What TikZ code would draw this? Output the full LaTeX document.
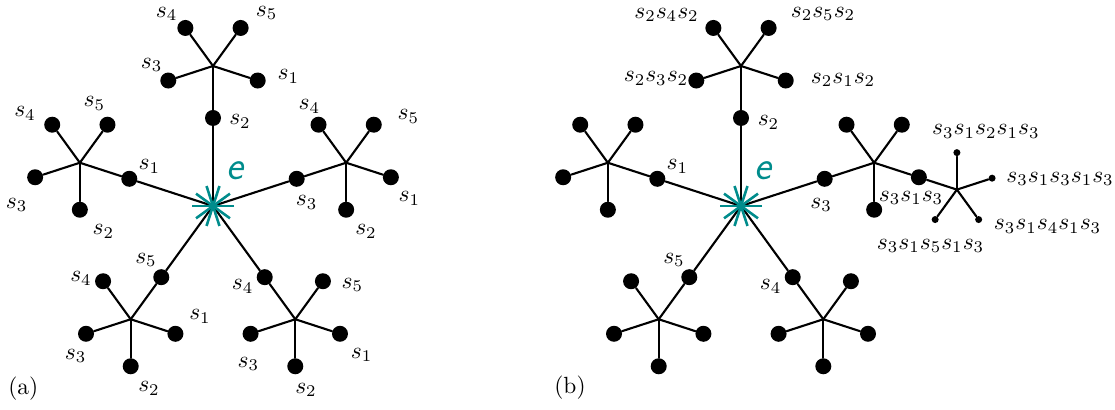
\documentclass[tikz,border=0pt]{standalone}
\usepackage{tikz}
\usetikzlibrary{calc}
\definecolor{StarTeal}{HTML}{008C8C}
\tikzset{
  edge/.style={draw=black, line width=0.9pt, line cap=round},
  vertex/.style={circle, fill=black, inner sep=0pt, minimum size=0.24cm},
  smallvertex/.style={circle, fill=black, inner sep=0pt, minimum size=0.105cm},
  ray/.style={draw=StarTeal, line width=1.1pt},
  lbl/.style={inner sep=0pt},
  elbl/.style={inner sep=0pt, text=StarTeal, font=\LARGE\sffamily\itshape},
}

\begin{document}
\begin{tikzpicture}[x=0.015cm, y=0.015cm]
  \useasboundingbox (-213,-204) rectangle (902,206);
  % Two copies of the tree around e
  \foreach \pan/\ox in {a/0, b/528} {
    \coordinate (e\pan) at (\ox,0);
    \foreach \i in {1,...,5} {
      \pgfmathsetmacro\th{234-72*\i}
      \coordinate (j\pan\i) at ($(e\pan)+(\th:140)$);
      \node[vertex] (d\pan\i) at ($(e\pan)+(\th:88)$) {};
      \draw[edge] (e\pan) -- (d\pan\i) -- (j\pan\i);
      % leaves of the junction
      \foreach \k in {1,...,5} {
        \ifnum\k=\i\else
          \pgfmathsetmacro\ph{414-72*\k}
          \node[vertex] (l\pan\i\k) at ($(j\pan\i)+(\ph:47)$) {};
          \draw[edge] (j\pan\i) -- (l\pan\i\k);
        \fi
      }
    }
  }
  % Third level, panel (b): behind s3 s1
  \coordinate (kb) at ($(jb3)+(342:87)$);
  \draw[edge] (lb31) -- (kb);
  \foreach \m in {2,...,5} {
    \pgfmathsetmacro\ps{234-72*\m}
    \node[smallvertex] (kb\m) at ($(kb)+(\ps:37)$) {};
    \draw[edge] (kb) -- (kb\m);
  }
  % Teal stars at e
  \foreach \pan in {a,b} {
    \foreach \a in {0,36,...,144}
      \draw[ray] ($(e\pan)+(\a:21)$) -- ($(e\pan)+(\a+180:21)$);
    \node[elbl] (t\pan e) at ($(e\pan)+(22,35)$) {e};
  }
  % Labels, panel (a)
  \foreach \x/\y/\txt [count=\n] in {
      -46.3/192/s_4, 53.7/193/s_5, -61.3/141/s_3, 75.3/129.3/s_1,
      27/84.3/s_2,
      -188/92.7/s_4, -118.7/102.7/s_5, -63.7/39.3/s_1, -196.3/1/s_3, -109.7/-25.7/s_2,
      96.3/99.3/s_4, 195.3/89.3/s_5, 93.7/3.5/s_3, 196.3/7.7/s_1, 153/-25.7/s_2,
      -67/-54/s_5, -132/-72.3/s_4, -13/-110.7/s_1, -137.3/-150/s_3, -64/-182.3/s_2,
      29.7/-80.7/s_4, 139.3/-79/s_5, 35.3/-158/s_3, 148.7/-149/s_1, 93/-184/s_2}
    \node[lbl] (ta\n) at (\x,\y) {$\txt$};
  \node[lbl] (capa) at (-189.7,-183) {(a)};
  % Labels, panel (b)
  \foreach \x/\y/\txt [count=\n] in {
      -74.5/191/s_2s_4s_2, 82/192/s_2s_5s_2, -85/127.5/s_2s_3s_2, 102/126/s_2s_1s_2,
      27.5/83.5/s_2, -63.7/39.3/s_1, 80/1/s_3, -67/-54/s_5, 29.7/-80.7/s_4,
      170/8/s_3s_1s_3, 244.8/74.3/s_3s_1s_2s_1s_3, 319/27/s_3s_1s_3s_1s_3,
      306.5/-20.7/s_3s_1s_4s_1s_3, 189.5/-39.8/s_3s_1s_5s_1s_3}
    \node[lbl] (tb\n) at ($(eb)+(\x,\y)$) {$\txt$};
  \node[lbl] (capb) at ($(eb)+(-171,-182)$) {(b)};
\end{tikzpicture}
\end{document}
